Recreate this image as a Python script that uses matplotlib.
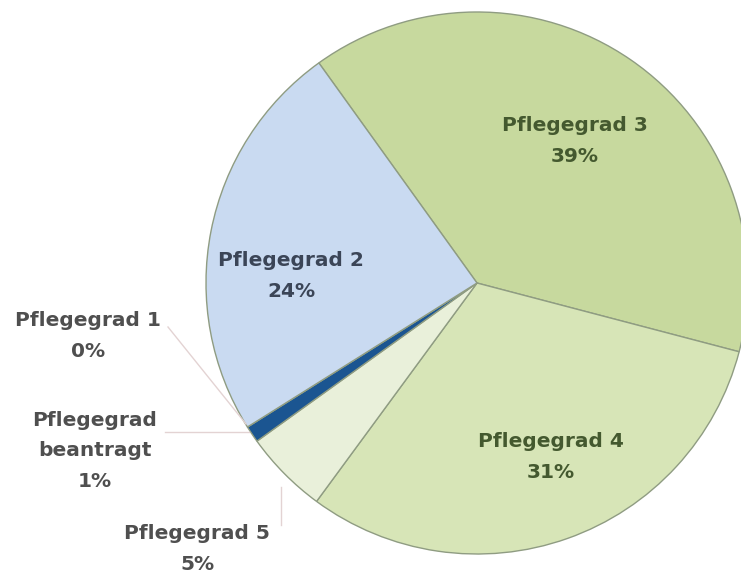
import matplotlib
matplotlib.use("Agg")
import matplotlib.pyplot as plt

# Verteilung der Pflegegrade (Anteile in %), im Uhrzeigersinn ab Pflegegrad 3
labels = ["Pflegegrad 3", "Pflegegrad 4", "Pflegegrad 5",
          "Pflegegrad beantragt", "Pflegegrad 1", "Pflegegrad 2"]
shares = [39, 31, 5, 1, 0, 24]
colors = ["#c7d99e", "#d7e5b7", "#e9f0da", "#1b5591", "#e9f0da", "#c9daf1"]

W, H = 741, 574


def ty(y):
    # pixel row measured from the top -> data y
    return H - y


fig = plt.figure(figsize=(W / 100, H / 100), dpi=100)
ax = fig.add_axes([0, 0, 1, 1])

ax.pie(shares, colors=colors, startangle=125.7, counterclock=False,
       center=(477, ty(283)), radius=271,
       wedgeprops=dict(edgecolor="#8f9c82", linewidth=1.0))
ax.set_xlim(0, W)
ax.set_ylim(0, H)
ax.set_aspect("equal")
ax.axis("off")

font = dict(fontsize=14.5, fontweight="bold", ha="center", va="center",
            family="DejaVu Sans", linespacing=1.75)

# labels inside the wedges
ax.text(575, ty(141), f"Pflegegrad 3\n{shares[0]}%", color="#44592f", **font)
ax.text(551, ty(457), f"Pflegegrad 4\n{shares[1]}%", color="#44592f", **font)
ax.text(291, ty(276), f"Pflegegrad 2\n{shares[5]}%", color="#3b4557", **font)

# labels outside with leader lines
grey = "#4f4f4f"
ax.text(88, ty(336), f"Pflegegrad 1\n{shares[4]}%", color=grey, **font)
ax.text(95, ty(451), f"Pflegegrad\nbeantragt\n{shares[3]}%", color=grey, **font)
ax.text(197, ty(549), f"Pflegegrad 5\n{shares[2]}%", color=grey, **font)

line = dict(color="#e3d3d3", linewidth=1.0)
ax.plot([168, 246], [ty(327), ty(424)], **line)
ax.plot([165, 249], [ty(432), ty(432)], **line)
ax.plot([281, 281], [ty(487), ty(525)], **line)

fig.savefig("out.png", dpi=100)
